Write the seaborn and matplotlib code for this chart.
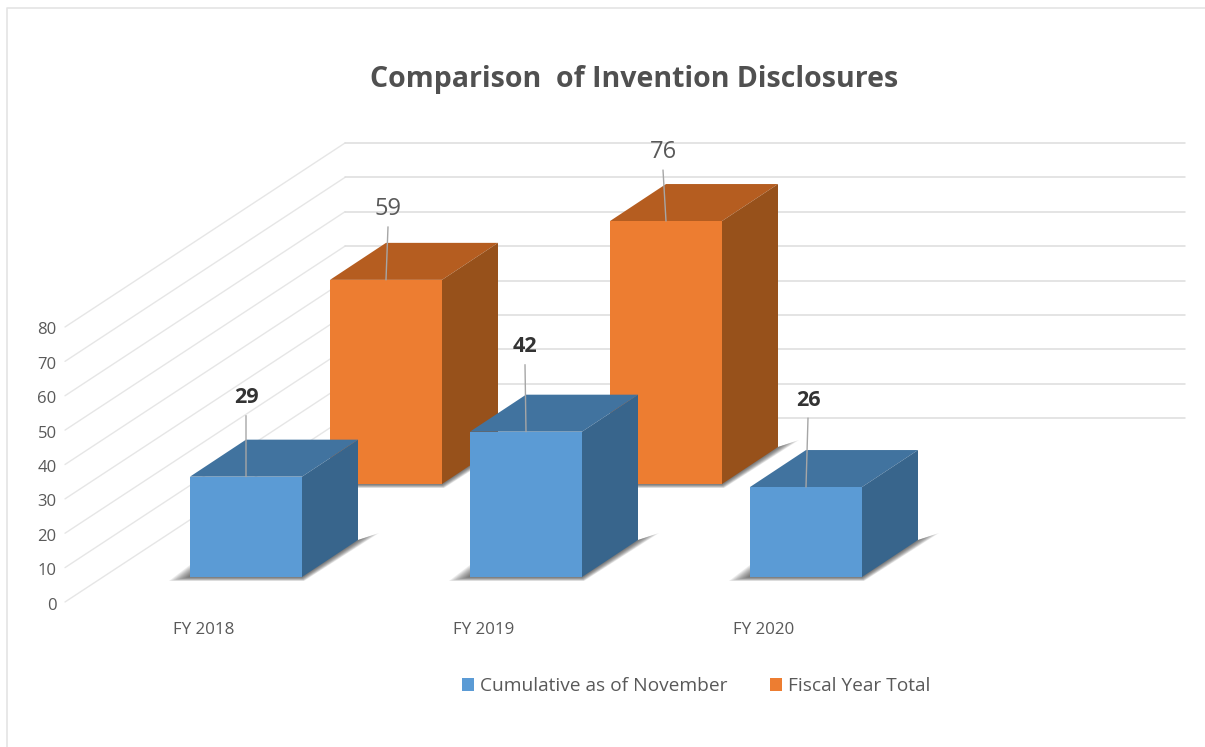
import numpy as np
import seaborn as sns
import matplotlib.pyplot as plt
from matplotlib.lines import Line2D
from matplotlib.patches import Patch, Polygon
from matplotlib.transforms import ScaledTranslation

years = ["FY 2018", "FY 2019", "FY 2020"]
cumulative = [29, 42, 26]
fiscal_total = [59, 76, np.nan]
series_names = ["Cumulative as of November", "Fiscal Year Total"]
axis_ticks = [0, 10, 20, 30, 40, 50, 60, 70, 80]

W, H = 1205, 747
PX_PER_CAT = 280.0
PX_PER_UNIT = 3.46
DEPTH_X = 56 / PX_PER_CAT
DEPTH_Y = 37 / PX_PER_UNIT

BLUE = ("#5B9BD5", "#41739F", "#38658C")
ORANGE = ("#ED7D31", "#B55D20", "#97511B")
GREY = "#595959"

sns.set_theme(style="white")
plt.rcParams["font.family"] = ["Open Sans", "DejaVu Sans"]


def make_layer(fig, x0, y0, zorder):
    # full figure axes, category 0 sits at pixel x0 and value 0 at pixel y0
    ax = fig.add_axes([0, 0, 1, 1], zorder=zorder)
    ax.patch.set_alpha(0)
    return ax, ((0 - x0) / PX_PER_CAT, (W - x0) / PX_PER_CAT), ((y0 - H) / PX_PER_UNIT, y0 / PX_PER_UNIT)


def draw_bars(ax, values, cols, xlim, ylim):
    sns.barplot(x=years, y=values, order=years, width=0.4, color=cols[0],
                saturation=1, errorbar=None, ax=ax)
    ax.set_xlim(xlim)
    ax.set_ylim(ylim)
    for bar in list(ax.patches):
        h = bar.get_height()
        if np.isnan(h):
            continue
        x0 = bar.get_x()
        x1 = x0 + bar.get_width()
        bar.set_linewidth(0)
        bar.set_zorder(3)
        # soft shadow on the floor, stacked so it fades away from the bar
        for s in np.linspace(1, 0.1, 10):
            sx, sy = 21 * s / PX_PER_CAT, 4 * s / PX_PER_UNIT
            pts = [(x0, 12 * s / PX_PER_UNIT), (x0 - sx, -sy), (x1 + 2 * s / PX_PER_CAT, -sy),
                   (x1 + DEPTH_X + sx, DEPTH_Y + 7 * s / PX_PER_UNIT), (x1 + DEPTH_X, DEPTH_Y)]
            ax.add_patch(Polygon(pts, closed=True, fc="#3c3c3c", lw=0, alpha=0.1, zorder=1))
        # top and side faces
        ax.add_patch(Polygon([(x0, h), (x1, h), (x1 + DEPTH_X, h + DEPTH_Y), (x0 + DEPTH_X, h + DEPTH_Y)],
                             closed=True, fc=cols[1], lw=0, zorder=2))
        ax.add_patch(Polygon([(x1, 0), (x1 + DEPTH_X, DEPTH_Y), (x1 + DEPTH_X, h + DEPTH_Y), (x1, h)],
                             closed=True, fc=cols[2], lw=0, zorder=2))
    sns.despine(ax=ax, left=True, bottom=True)
    ax.set_yticks([])
    ax.set_xlabel("")
    ax.set_ylabel("")


def add_labels(ax, values, rises, tilts, bold):
    for i, (v, rise, tilt) in enumerate(zip(values, rises, tilts)):
        if np.isnan(v):
            continue
        ax.annotate("", xy=(i, v), xytext=(tilt * 0.72, (rise - 18) * 0.72), textcoords="offset points",
                    arrowprops=dict(arrowstyle="-", color="#a6a6a6", lw=1, shrinkA=0, shrinkB=0), zorder=5)
        ax.annotate(str(v), xy=(i, v), xytext=(tilt * 0.72, rise * 0.72), textcoords="offset points",
                    ha="center", va="center", zorder=6,
                    color="#333333" if bold else GREY, fontweight="bold" if bold else "normal",
                    fontsize=15.5 if bold else 17)


fig = plt.figure(figsize=(W / 100, H / 100), dpi=100, facecolor="white")

# walls: real value axis, grid lines run along the side wall then the back wall
wall = fig.add_axes([65 / W, 1 - 602 / H, 1120 / W, 275 / H], zorder=0)
wall.patch.set_alpha(0)
wall.set_xlim(0, 1120)
wall.set_ylim(0, 80)
wall_rise = 184 * 80 / 275
for t in axis_ticks:
    wall.plot([0, 280], [t, t + wall_rise], color="#e6e6e6", lw=1, clip_on=False)
    wall.plot([280, 1120], [t + wall_rise, t + wall_rise], color="#dcdcdc", lw=1.1, clip_on=False)
wall.set_xticks([])
wall.set_yticks(axis_ticks, [str(t) for t in axis_ticks], color=GREY, fontsize=12)
wall.tick_params(axis="y", length=0, pad=6)
for lab in wall.get_yticklabels():
    lab.set_transform(lab.get_transform() + ScaledTranslation(0, -1.5 / 100, fig.dpi_scale_trans))
sns.despine(ax=wall, left=True, bottom=True)

back, xl, yl = make_layer(fig, 386, 484, 1)
draw_bars(back, fiscal_total, ORANGE, xl, yl)
back.set_xticks([])
add_labels(back, fiscal_total, [71, 69, 0], [2, -3, 0], False)

front, xl, yl = make_layer(fig, 246, 577, 2)
draw_bars(front, cumulative, BLUE, xl, yl)
front.set_xticks(np.arange(len(years)) - 42 / PX_PER_CAT, years, color=GREY, fontsize=12.2)
front.tick_params(axis="x", length=0, pad=-(H - 622) * 0.72)
add_labels(front, cumulative, [79, 85, 87], [0, -1, 2], True)

handles = [Patch(fc=BLUE[0], lw=0), Patch(fc=ORANGE[0], lw=0)]
front.legend(handles, series_names, loc="center", bbox_to_anchor=(696 / W, 1 - 686 / H), ncols=2,
             frameon=False, fontsize=13.8, labelcolor=GREY, handlelength=0.66, handleheight=0.66,
             handletextpad=0.3, columnspacing=2.2)

fig.text(634 / W, 1 - 79 / H, "Comparison  of Invention Disclosures", ha="center", va="center",
         color="#505050", fontsize=20.5, fontweight="bold")

# screenshot frame
fig.add_artist(Line2D([7 / W, 7 / W, 1], [0, 1 - 8 / H, 1 - 8 / H], color="#e4e4e4", lw=1.2))

plt.savefig("out.png", dpi=100)
